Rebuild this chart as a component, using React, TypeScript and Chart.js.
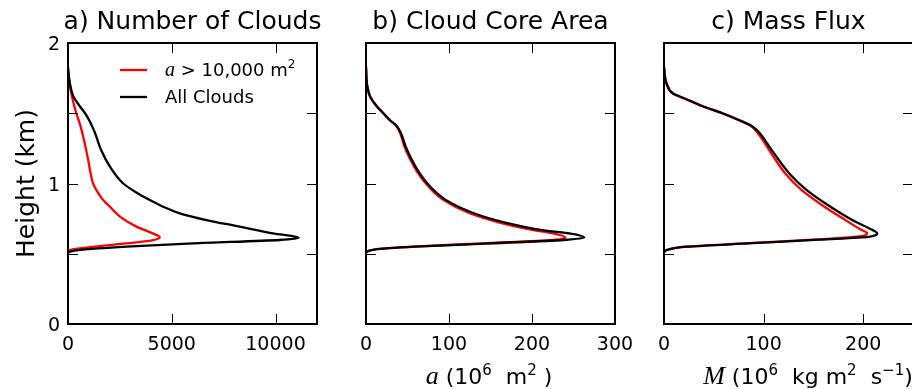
import React, { useEffect, useRef } from 'react';
import { Chart, registerables } from 'chart.js';
Chart.register(...registerables);

// ---------- DATA ----------
// Panel a) Number of Clouds
const numRedHeight = [0.51, 0.527, 0.539, 0.562, 0.581, 0.597, 0.617, 0.645, 0.693, 0.764, 0.835, 0.883, 0.94, 1.0, 1.08, 1.17, 1.29, 1.41, 1.5, 1.57, 1.64, 1.72, 1.83];
const numRedValue = [0, 96, 577, 2020, 3300, 4100, 4420, 4090, 3300, 2500, 2020, 1690, 1420, 1210, 1080, 970, 800, 600, 400, 270, 160, 60, 0];
const numAllHeight = [0.505, 0.515, 0.527, 0.55, 0.574, 0.598, 0.614, 0.645, 0.693, 0.74, 0.788, 0.835, 0.883, 0.94, 1.0, 1.12, 1.24, 1.36, 1.44, 1.5, 1.56, 1.62, 1.71, 1.82];
const numAllValue = [0, 96, 577, 2820, 6020, 10190, 11120, 9870, 8270, 6670, 5380, 4580, 3940, 3250, 2660, 2020, 1590, 1300, 1060, 820, 520, 260, 96, 0];

// Panel b) Cloud Core Area (10^6 m^2)
const areaRedHeight = [0.51, 0.53, 0.55, 0.574, 0.598, 0.617, 0.645, 0.67, 0.72, 0.79, 0.88, 0.98, 1.07, 1.17, 1.26, 1.36, 1.41, 1.45, 1.5, 1.55, 1.62, 1.69, 1.83];
const areaRedValue = [0, 10, 55, 140, 225, 240, 225, 200, 162, 124, 94, 75, 63, 53.5, 46.5, 41, 36.5, 28.5, 20.7, 12.8, 4.8, 1.6, 0];
const areaAllHeight = [0.51, 0.53, 0.55, 0.574, 0.598, 0.615, 0.645, 0.67, 0.72, 0.79, 0.88, 0.98, 1.07, 1.17, 1.26, 1.36, 1.41, 1.45, 1.5, 1.55, 1.62, 1.69, 1.83];
const areaAllValue = [0, 10, 60, 150, 238, 263, 245, 210, 169, 129, 97, 77, 65, 55, 48, 42, 37, 29, 21, 13, 5, 1.6, 0];

// Panel c) Mass Flux (10^6 kg m^2 s^-1)
const fluxRedHeight = [0.51, 0.527, 0.55, 0.575, 0.6, 0.625, 0.646, 0.67, 0.74, 0.84, 0.955, 1.07, 1.19, 1.29, 1.36, 1.41, 1.45, 1.5, 1.55, 1.6, 1.64, 1.71, 1.83];
const fluxRedValue = [0, 3, 22, 85, 150, 198, 204, 198, 182, 160, 138, 122, 110, 101, 94, 87, 75, 58, 38.5, 22, 9, 2.5, 0];
const fluxAllHeight = [0.51, 0.527, 0.55, 0.575, 0.6, 0.62, 0.646, 0.67, 0.74, 0.84, 0.955, 1.07, 1.19, 1.29, 1.36, 1.41, 1.45, 1.5, 1.55, 1.6, 1.64, 1.71, 1.83];
const fluxAllValue = [0, 3, 23, 89, 156, 205, 214, 209, 189, 166, 143, 126, 113, 103, 96, 88, 76, 59, 39, 22.7, 9.3, 2.7, 0];

// Tick values / labels
const numXTicks = [0, 5000, 10000];
const areaXTicks = [0, 100, 200, 300];
const fluxXTicks = [0, 100, 200];
const heightTicks = [0, 0.5, 1, 1.5, 2];
const heightTickLabels = ['0', '', '1', '', '2'];
const legendLabels = ['All Clouds'];

// ---------- LAYOUT ----------
const W = 930;
const H = 389;
const FONT = '"DejaVu Sans", sans-serif';
const MATH = '"Liberation Serif", "DejaVu Serif", serif';

type Seg = { t: string; f: string; dy?: number };

function drawRich(ctx: CanvasRenderingContext2D, segs: Seg[], x0: number, y: number, align: 'center' | 'left') {
  let w = 0;
  segs.forEach((s) => { ctx.font = s.f; w += ctx.measureText(s.t).width; });
  let x = align === 'center' ? x0 - w / 2 : x0;
  ctx.textAlign = 'left';
  ctx.textBaseline = 'alphabetic';
  segs.forEach((s) => {
    ctx.font = s.f;
    ctx.fillText(s.t, x, y + (s.dy || 0));
    x += ctx.measureText(s.t).width;
  });
}

type PanelCfg = {
  left: number; right: number; top: number; bottom: number;
  xMax: number; xTicks: number[]; yLabels: boolean;
  title: string; xlabel: Seg[] | null; xlabelX: number;
  legend: boolean;
  red: { h: number[]; v: number[] };
  all: { h: number[]; v: number[] };
};

const LBL = `22px ${FONT}`;
const SUP = `15px ${FONT}`;

const panels: PanelCfg[] = [
  {
    left: 68, right: 317, top: 43, bottom: 324, xMax: 12000, xTicks: numXTicks, yLabels: true,
    title: 'a) Number of Clouds', xlabel: null, xlabelX: 0, legend: true,
    red: { h: numRedHeight, v: numRedValue }, all: { h: numAllHeight, v: numAllValue },
  },
  {
    left: 366, right: 615, top: 43, bottom: 324, xMax: 300, xTicks: areaXTicks, yLabels: false,
    title: 'b) Cloud Core Area',
    xlabel: [
      { t: 'a', f: `italic 26px ${MATH}` },
      { t: ' (10', f: LBL },
      { t: '6', f: SUP, dy: -9 },
      { t: '  m', f: LBL },
      { t: '2', f: SUP, dy: -9 },
      { t: ' )', f: LBL },
    ],
    xlabelX: 489, legend: false,
    red: { h: areaRedHeight, v: areaRedValue }, all: { h: areaAllHeight, v: areaAllValue },
  },
  {
    left: 664, right: 913, top: 43, bottom: 324, xMax: 250, xTicks: fluxXTicks, yLabels: false,
    title: 'c) Mass Flux',
    xlabel: [
      { t: 'M', f: `italic 26px ${MATH}` },
      { t: ' (10', f: LBL },
      { t: '6', f: SUP, dy: -9 },
      { t: '  kg m', f: LBL },
      { t: '2', f: SUP, dy: -9 },
      { t: '  s', f: LBL },
      { t: '\u22121', f: SUP, dy: -9 },
      { t: ')', f: LBL },
    ],
    xlabelX: 808, legend: false,
    red: { h: fluxRedHeight, v: fluxRedValue }, all: { h: fluxAllHeight, v: fluxAllValue },
  },
];

function toPoints(h: number[], v: number[]) {
  return h.map((hh, i) => ({ x: v[i], y: hh }));
}

function Panel({ cfg }: { cfg: PanelCfg }) {
  const ref = useRef<HTMLCanvasElement>(null);
  useEffect(() => {
    const canvas = ref.current!;
    const decor = {
      id: 'decor',
      afterDraw(chart: any) {
        const ctx: CanvasRenderingContext2D = chart.ctx;
        const a = chart.chartArea;
        const xs = chart.scales.x;
        const ys = chart.scales.y;
        ctx.save();
        // inward ticks on all four sides
        ctx.strokeStyle = '#000';
        ctx.lineWidth = 1;
        ctx.beginPath();
        xs.ticks.forEach((t: any) => {
          const px = Math.round(xs.getPixelForValue(t.value)) + 0.5;
          if (px <= a.left + 2 || px >= a.right - 2) return;
          ctx.moveTo(px, a.bottom); ctx.lineTo(px, a.bottom - 10);
          ctx.moveTo(px, a.top); ctx.lineTo(px, a.top + 10);
        });
        ys.ticks.forEach((t: any) => {
          const py = Math.round(ys.getPixelForValue(t.value)) + 0.5;
          if (py <= a.top + 2 || py >= a.bottom - 2) return;
          ctx.moveTo(a.left, py); ctx.lineTo(a.left + 10, py);
          ctx.moveTo(a.right, py); ctx.lineTo(a.right - 10, py);
        });
        ctx.stroke();
        // frame
        ctx.lineWidth = 2;
        ctx.strokeRect(a.left, a.top, a.right - a.left, a.bottom - a.top);
        // tick labels
        ctx.fillStyle = '#000';
        ctx.font = `19px ${FONT}`;
        ctx.textBaseline = 'alphabetic';
        ctx.textAlign = 'center';
        xs.ticks.forEach((t: any) => {
          ctx.fillText(String(t.value), xs.getPixelForValue(t.value), 350);
        });
        if (cfg.yLabels) {
          ctx.textAlign = 'right';
          ys.ticks.forEach((t: any) => {
            const lbl = heightTickLabels[heightTicks.indexOf(t.value)] || '';
            if (lbl) ctx.fillText(lbl, 60, ys.getPixelForValue(t.value) + 7);
          });
        }
        // title
        ctx.font = `25px ${FONT}`;
        ctx.textAlign = 'center';
        ctx.fillText(cfg.title, (a.left + a.right) / 2, 29);
        // y label
        if (cfg.yLabels) {
          ctx.save();
          ctx.translate(34, (a.top + a.bottom) / 2);
          ctx.rotate(-Math.PI / 2);
          ctx.font = `25px ${FONT}`;
          ctx.textAlign = 'center';
          ctx.fillText('Height (km)', 0, 0);
          ctx.restore();
        }
        // x label
        if (cfg.xlabel) drawRich(ctx, cfg.xlabel, cfg.xlabelX, 384, 'center');
        // legend
        if (cfg.legend) {
          ctx.lineWidth = 2.3;
          ctx.strokeStyle = '#ff0000';
          ctx.beginPath(); ctx.moveTo(120, 70); ctx.lineTo(147, 70); ctx.stroke();
          ctx.strokeStyle = '#000';
          ctx.beginPath(); ctx.moveTo(120, 97); ctx.lineTo(147, 97); ctx.stroke();
          const LF = `18px ${FONT}`;
          drawRich(ctx, [
            { t: 'a', f: `italic 20px ${MATH}` },
            { t: ' > 10,000 m', f: LF },
            { t: '2', f: `12px ${FONT}`, dy: -8 },
          ], 165, 76, 'left');
          ctx.font = LF;
          ctx.textAlign = 'left';
          ctx.fillText(legendLabels[0], 165, 103);
        }
        ctx.restore();
      },
    };
    const chart = new Chart(canvas, {
      type: 'line',
      data: {
        datasets: [
          {
            label: 'a > 10,000 m2',
            data: toPoints(cfg.red.h, cfg.red.v),
            borderColor: '#ff0000',
            borderWidth: 2.3,
            pointRadius: 0,
            cubicInterpolationMode: 'monotone',
            order: 2,
          },
          {
            label: 'All Clouds',
            data: toPoints(cfg.all.h, cfg.all.v),
            borderColor: '#000000',
            borderWidth: 2.3,
            pointRadius: 0,
            cubicInterpolationMode: 'monotone',
            order: 1,
          },
        ],
      },
      options: {
        indexAxis: 'y',
        responsive: false,
        animation: false,
        events: [],
        layout: {
          padding: {
            left: cfg.left,
            right: W - cfg.right,
            top: cfg.top,
            bottom: H - cfg.bottom,
          },
        },
        plugins: { legend: { display: false }, tooltip: { enabled: false }, title: { display: false } },
        scales: {
          x: {
            type: 'linear',
            position: 'bottom',
            min: 0,
            max: cfg.xMax,
            grid: { display: false },
            border: { display: false },
            ticks: { display: false },
            afterBuildTicks: (s: any) => { s.ticks = cfg.xTicks.map((v) => ({ value: v })); },
            afterFit: (s: any) => { s.height = 0; },
          },
          y: {
            type: 'linear',
            position: 'left',
            min: 0,
            max: 2,
            grid: { display: false },
            border: { display: false },
            ticks: { display: false },
            afterBuildTicks: (s: any) => { s.ticks = heightTicks.map((v) => ({ value: v })); },
            afterFit: (s: any) => { s.width = 0; },
          },
        },
      } as any,
      plugins: [decor],
    });
    return () => chart.destroy();
  }, [cfg]);
  return (
    <canvas
      ref={ref}
      width={W}
      height={H}
      style={{ position: 'absolute', left: 0, top: 0, width: W, height: H }}
    />
  );
}

export default function App() {
  return (
    <div style={{ position: 'absolute', left: 0, top: 0, width: 912, height: 389, overflow: 'hidden', background: '#fff' }}>
      {panels.map((p, i) => (
        <Panel key={i} cfg={p} />
      ))}
    </div>
  );
}
